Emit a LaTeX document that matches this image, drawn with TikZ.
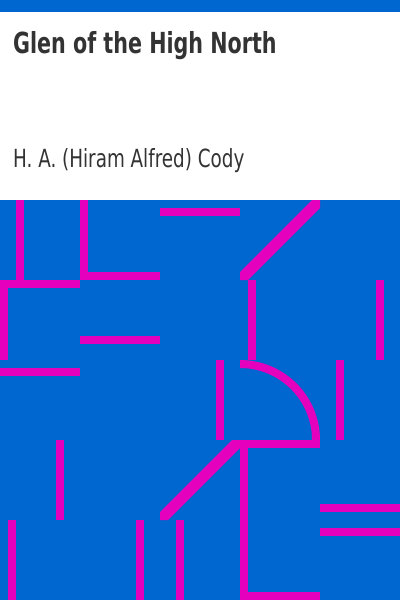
\documentclass[tikz,border=0pt]{standalone}
\usepackage{fontspec}
\newfontfamily\condfont{DejaVu Sans Condensed}
\newfontfamily\condboldfont{DejaVu Sans Condensed Bold}
\definecolor{bgblue}{RGB}{0,102,208}
\definecolor{mag}{RGB}{228,0,188}
\definecolor{txt}{RGB}{51,51,51}
\begin{document}
\begin{tikzpicture}[x=1pt,y=-1pt,
  bar/.style={fill=mag},
  ttl/.style={anchor=base west,inner sep=0pt,text=txt}]
\useasboundingbox (0,0) rectangle (400,600);
\fill[white] (0,0) rectangle (400,600);
\fill[bgblue] (0,0) rectangle (400,12);
\fill[bgblue] (0,200) rectangle (400,600);
% horizontals
\fill[bar] (160,208) rectangle (240,216);
\fill[bar] (80,272) rectangle (160,280);
\fill[bar] (0,280) rectangle (80,288);
\fill[bar] (80,336) rectangle (160,344);
\fill[bar] (0,368) rectangle (80,376);
\fill[bar] (232,440) rectangle (320,448);
\fill[bar] (320,504) rectangle (400,512);
\fill[bar] (320,528) rectangle (400,536);
\fill[bar] (240,592) rectangle (320,600);
% verticals
\fill[bar] (16,200) rectangle (24,280);
\fill[bar] (80,200) rectangle (88,280);
\fill[bar] (0,280) rectangle (8,360);
\fill[bar] (248,280) rectangle (256,360);
\fill[bar] (376,280) rectangle (384,360);
\fill[bar] (216,360) rectangle (224,440);
\fill[bar] (336,360) rectangle (344,440);
\fill[bar] (56,440) rectangle (64,520);
\fill[bar] (8,520) rectangle (16,600);
\fill[bar] (136,520) rectangle (144,600);
\fill[bar] (176,520) rectangle (184,600);
\fill[bar] (240,448) rectangle (248,600);
% diagonals
\fill[bar] (240,272) -- (312,200) -- (320,200) -- (320,208) -- (248,280) -- (240,280) -- cycle;
\fill[bar] (160,512) -- (232,440) -- (240,440) -- (240,448) -- (168,520) -- (160,520) -- cycle;
% arc
\fill[bar] (240,360) arc[start angle=90,end angle=0,radius=80pt] -- (312,440) arc[start angle=0,end angle=90,radius=72pt] -- cycle;
% texts
\node[ttl,font=\condboldfont\fontsize{29}{34}\selectfont] (title) at (13,53) {\scalebox{0.792}[1]{Glen of the High North}};
\node[ttl,font=\condfont\fontsize{25}{30}\selectfont] (author) at (13,167) {\scalebox{0.816}[1]{H. A. (Hiram Alfred) Cody}};
\end{tikzpicture}
\end{document}
